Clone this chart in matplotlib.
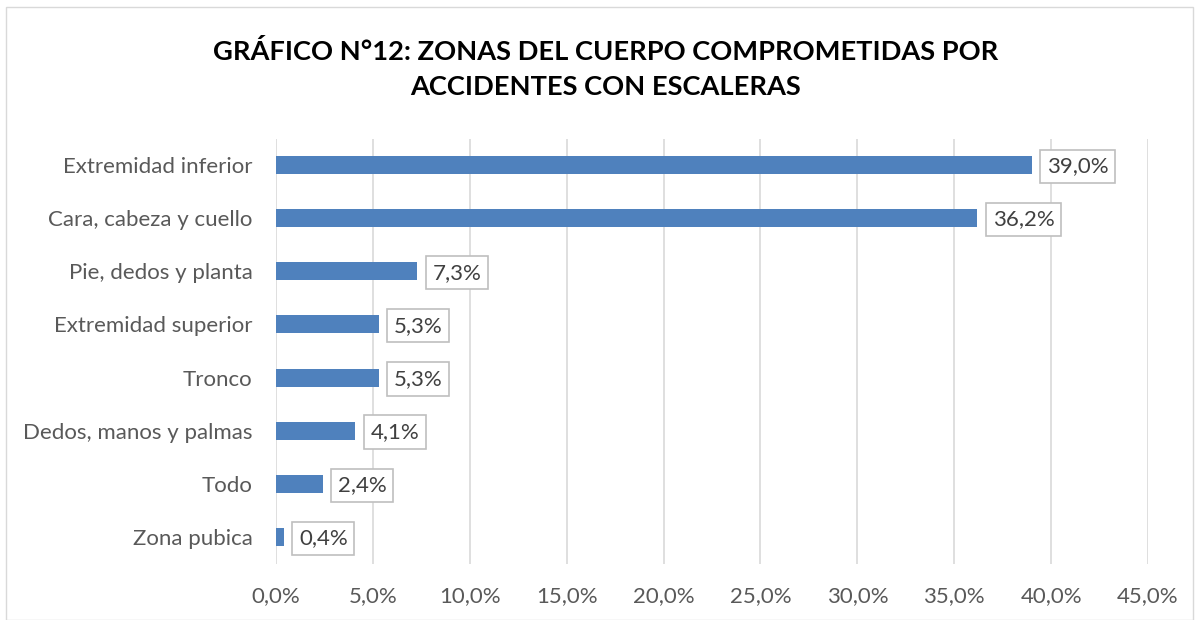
import matplotlib
matplotlib.use("Agg")
from matplotlib import pyplot as plt
from matplotlib.patches import Rectangle
from matplotlib.ticker import FuncFormatter, MultipleLocator

categories = ["Extremidad inferior", "Cara, cabeza y cuello", "Pie, dedos y planta",
              "Extremidad superior", "Tronco", "Dedos, manos y palmas", "Todo", "Zona pubica"]
values = [39.0, 36.2, 7.3, 5.3, 5.3, 4.1, 2.4, 0.4]
title = "GRÁFICO N°12: ZONAS DEL CUERPO COMPROMETIDAS POR\nACCIDENTES CON ESCALERAS"

plt.rcParams['font.family'] = ['Lato', 'DejaVu Sans']

W, H = 1199, 620
fig = plt.figure(figsize=(W / 100, H / 100), dpi=100)
ax = fig.add_axes([276 / W, 1 - 563.5 / H, 872 / W, 425 / H])

# chart frame
fig.patches.append(Rectangle((6 / W, 0), 1187 / W, 1 - 7 / H, transform=fig.transFigure,
                             fill=False, edgecolor="#d9d9d9", lw=1))

pos = list(range(len(categories)))
ax.barh(pos, values, height=0.34, color="#4f81bd", zorder=3)
ax.set_yticks(pos)
ax.set_yticklabels(categories)
ax.set_ylim(len(categories) - 0.5, -0.5)
ax.set_xlim(0, 45)
ax.xaxis.set_major_locator(MultipleLocator(5))
ax.xaxis.set_major_formatter(FuncFormatter(lambda v, p: f"{v:.1f}%".replace(".", ",")))

ax.grid(axis="x", color="#d9d9d9", lw=1.2, zorder=0)
for s in ax.spines.values():
    s.set_visible(False)
ax.tick_params(axis="both", length=0, labelsize=16, labelcolor="#595959")
ax.tick_params(axis="y", pad=17)
ax.tick_params(axis="x", pad=16)

for p, v in zip(pos, values):
    ax.annotate(f"{v:.1f}%".replace(".", ","), (v, p), xytext=(11, -1), textcoords="offset points",
                va="center", ha="left", fontsize=16, color="#404040", zorder=4,
                bbox=dict(boxstyle="square,pad=0.3", fc="white", ec="#bfbfbf", lw=1.2))

fig.text(606 / W, 1 - 69 / H, title, ha="center", va="center", fontsize=19.6,
         fontweight="bold", color="#000000", linespacing=1.55)

fig.savefig("out.png", dpi=100)
